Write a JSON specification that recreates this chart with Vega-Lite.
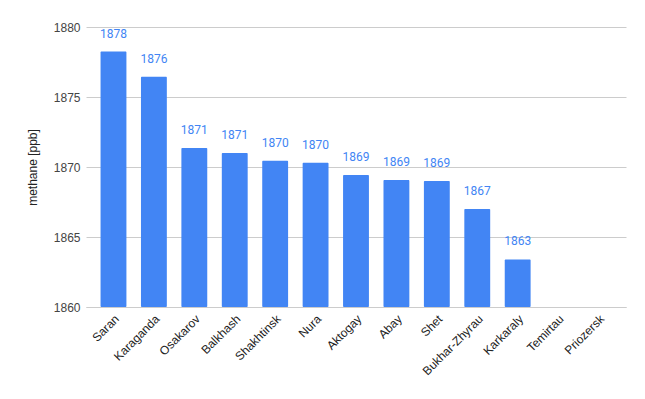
{
  "$schema": "https://vega.github.io/schema/vega-lite/v6.json",
  "autosize": {"type": "none"},
  "width": 540,
  "height": 280,
  "padding": {"left": 86, "top": 27, "right": 19, "bottom": 92},
  "background": "white",
  "config": {
    "view": {"stroke": null},
    "font": "Roboto",
    "axis": {"labelFont": "Liberation Sans", "titleFont": "Liberation Sans"}
  },
  "data": {
    "values": [
      {"city": "Saran", "methane": 1878.25},
      {"city": "Karaganda", "methane": 1876.45},
      {"city": "Osakarov", "methane": 1871.36},
      {"city": "Balkhash", "methane": 1871.0},
      {"city": "Shakhtinsk", "methane": 1870.45},
      {"city": "Nura", "methane": 1870.3},
      {"city": "Aktogay", "methane": 1869.43},
      {"city": "Abay", "methane": 1869.08},
      {"city": "Shet", "methane": 1869.0},
      {"city": "Bukhar-Zhyrau", "methane": 1867.0},
      {"city": "Karkaraly", "methane": 1863.4},
      {"city": "Temirtau", "methane": null},
      {"city": "Priozersk", "methane": null}
    ]
  },
  "encoding": {
    "x": {
      "field": "city",
      "type": "nominal",
      "sort": null,
      "scale": {
        "domain": ["Saran", "Karaganda", "Osakarov", "Balkhash", "Shakhtinsk", "Nura", "Aktogay", "Abay", "Shet", "Bukhar-Zhyrau", "Karkaraly", "Temirtau", "Priozersk"],
        "paddingInner": 0.36,
        "paddingOuter": 0.36
      },
      "axis": {
        "title": null,
        "labelAngle": -45,
        "labelFontSize": 12,
        "labelColor": "#222222",
        "ticks": false,
        "domain": true,
        "domainColor": "#cccccc",
        "labelPadding": 6
      }
    },
    "y": {
      "field": "methane",
      "type": "quantitative",
      "scale": {"domain": [1860, 1880], "zero": false, "nice": false},
      "axis": {
        "title": "methane [ppb]",
        "titleFontSize": 12,
        "titleFontWeight": "normal",
        "titleColor": "#222222",
        "titlePadding": 14,
        "values": [1860, 1865, 1870, 1875, 1880],
        "format": "d",
        "labelFontSize": 12,
        "labelColor": "#444444",
        "labelPadding": 6,
        "ticks": false,
        "domain": false,
        "gridColor": "#cccccc"
      }
    }
  },
  "layer": [
    {
      "mark": {"type": "bar", "color": "#4285f4", "cornerRadius": 1, "clip": true},
      "encoding": {"y2": {"datum": 1860}}
    },
    {
      "transform": [{"filter": "datum.methane != null"}],
      "mark": {"type": "text", "baseline": "bottom", "dy": -11, "fontSize": 12, "color": "#4285f4"},
      "encoding": {"text": {"field": "methane", "type": "quantitative", "format": ".0f"}}
    }
  ]
}
